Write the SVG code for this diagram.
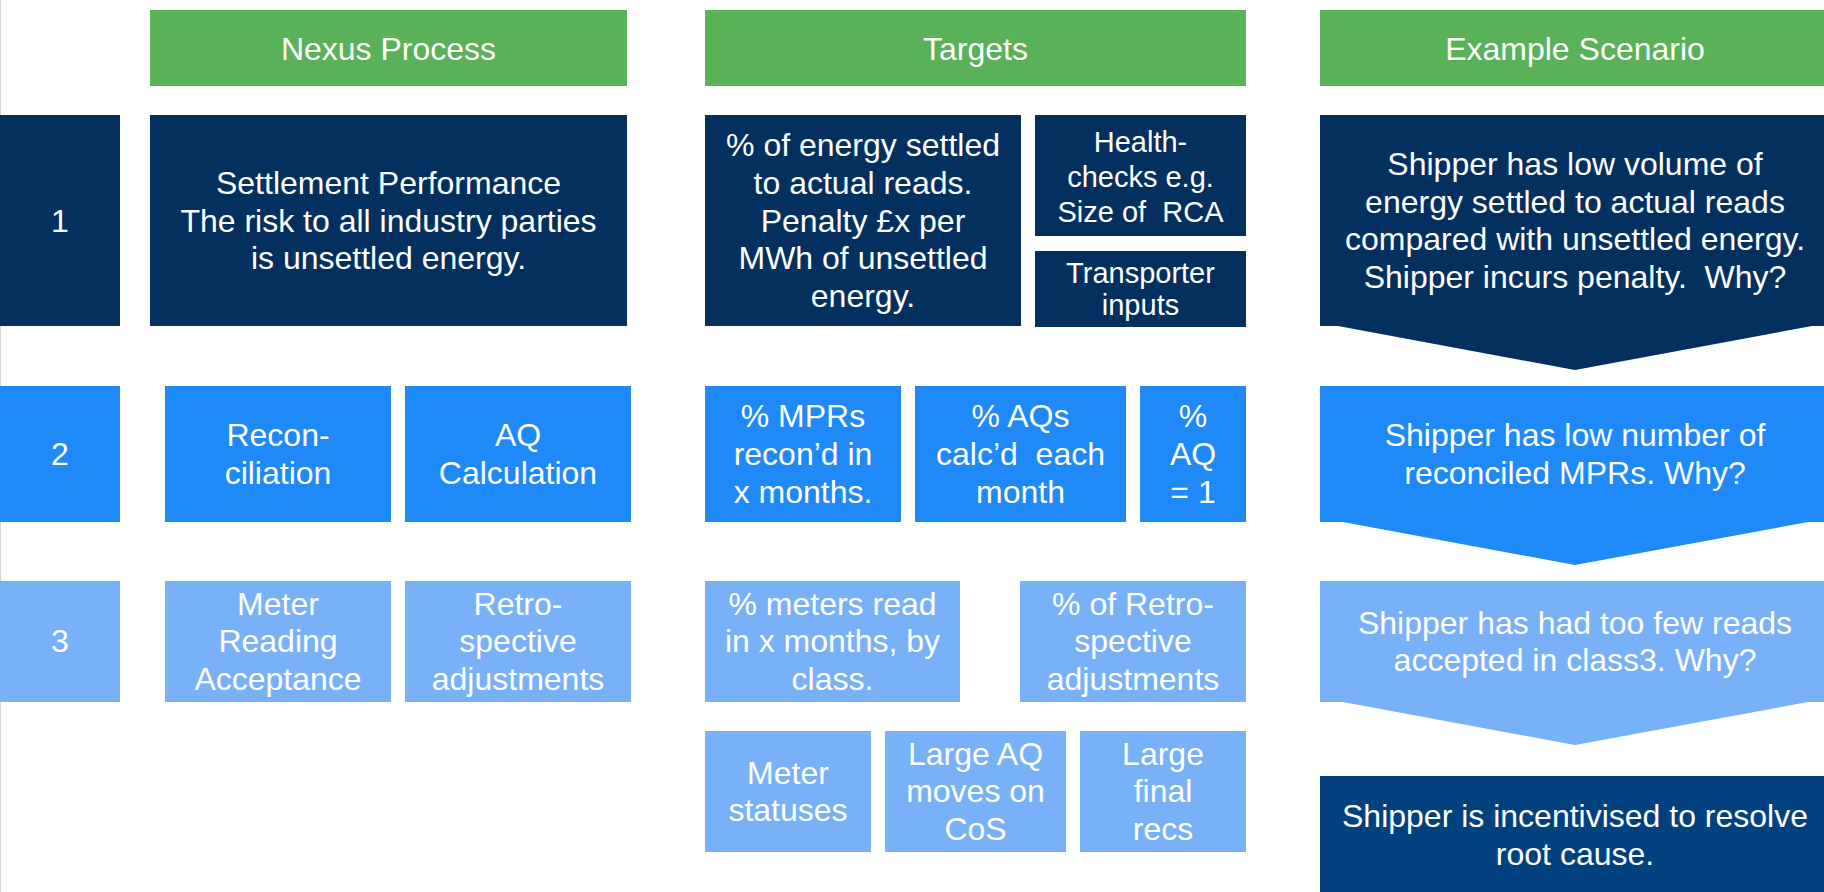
<svg xmlns="http://www.w3.org/2000/svg" width="1824" height="892" viewBox="0 0 1824 892">
  <style>
    .hdr { fill: #5AB258; }
    .navy { fill: #03305F; }
    .navy2 { fill: #01417F; }
    .mid { fill: #1E89F7; }
    .light { fill: #79B1F8; }
    text { font-family: "Liberation Sans", Arial, sans-serif; font-size: 32px; fill: #FFFFFF; text-anchor: middle; white-space: pre; }
    .sm { font-size: 29px; }
  </style>

  <!-- left margin rule -->
  <line x1="0.5" y1="0" x2="0.5" y2="892" stroke="#D6D6D6" stroke-width="1"/>

  <!-- column headers -->
  <g id="hdr-nexus">
    <rect class="hdr" x="150" y="10" width="477" height="76"/>
    <text x="388.5" y="60">Nexus Process</text>
  </g>
  <g id="hdr-targets">
    <rect class="hdr" x="705" y="10" width="541" height="76"/>
    <text x="975.5" y="60">Targets</text>
  </g>
  <g id="hdr-scenario">
    <rect class="hdr" x="1320" y="10" width="510" height="76"/>
    <text x="1575" y="60">Example Scenario</text>
  </g>

  <!-- row 1 -->
  <g id="row1-label">
    <rect class="navy" x="0" y="115" width="120" height="211"/>
    <text x="60" y="232">1</text>
  </g>
  <g id="row1-process">
    <rect class="navy" x="150" y="115" width="477" height="211"/>
    <text x="388.5" y="194">Settlement Performance</text>
    <text x="388.5" y="231.5">The risk to all industry parties</text>
    <text x="388.5" y="269.2">is unsettled energy.</text>
  </g>
  <g id="row1-target-energy">
    <rect class="navy" x="705" y="115" width="316" height="211"/>
    <text x="863" y="156.1">% of energy settled</text>
    <text x="863" y="193.8">to actual reads.</text>
    <text x="863" y="231.5">Penalty £x per</text>
    <text x="863" y="269.2">MWh of unsettled</text>
    <text x="863" y="306.9">energy.</text>
  </g>
  <g id="row1-target-health">
    <rect class="navy" x="1035" y="115" width="211" height="121"/>
    <text class="sm" x="1140.5" y="152">Health-</text>
    <text class="sm" x="1140.5" y="187">checks e.g.</text>
    <text class="sm" x="1140.5" y="222">Size of  RCA</text>
  </g>
  <g id="row1-target-transporter">
    <rect class="navy" x="1035" y="251" width="211" height="76"/>
    <text class="sm" x="1140.5" y="283">Transporter</text>
    <text class="sm" x="1140.5" y="315">inputs</text>
  </g>
  <g id="row1-scenario">
    <polygon class="navy" points="1320,115 1830,115 1830,326 1812,326 1575,370 1338,326 1320,326"/>
    <text x="1575" y="175">Shipper has low volume of</text>
    <text x="1575" y="212.7">energy settled to actual reads</text>
    <text x="1575" y="250.3">compared with unsettled energy.</text>
    <text x="1575" y="288">Shipper incurs penalty.  Why?</text>
  </g>

  <!-- row 2 -->
  <g id="row2-label">
    <rect class="mid" x="0" y="386" width="120" height="136"/>
    <text x="60" y="465">2</text>
  </g>
  <g id="row2-recon">
    <rect class="mid" x="165" y="386" width="226" height="136"/>
    <text x="278" y="446.2">Recon-</text>
    <text x="278" y="483.8">ciliation</text>
  </g>
  <g id="row2-aq">
    <rect class="mid" x="405" y="386" width="226" height="136"/>
    <text x="518" y="446.2">AQ</text>
    <text x="518" y="483.8">Calculation</text>
  </g>
  <g id="row2-target-mprs">
    <rect class="mid" x="705" y="386" width="196" height="136"/>
    <text x="803" y="427.3">% MPRs</text>
    <text x="803" y="465">recon’d in</text>
    <text x="803" y="502.7">x months.</text>
  </g>
  <g id="row2-target-aqs">
    <rect class="mid" x="915" y="386" width="211" height="136"/>
    <text x="1020.5" y="427.3">% AQs</text>
    <text x="1020.5" y="465">calc’d  each</text>
    <text x="1020.5" y="502.7">month</text>
  </g>
  <g id="row2-target-aq1">
    <rect class="mid" x="1140" y="386" width="106" height="136"/>
    <text x="1193" y="427.3">%</text>
    <text x="1193" y="465">AQ</text>
    <text x="1193" y="502.7">= 1</text>
  </g>
  <g id="row2-scenario">
    <polygon class="mid" points="1320,386 1830,386 1830,522 1808,522 1575,565 1343,522 1320,522"/>
    <text x="1575" y="446.2">Shipper has low number of</text>
    <text x="1575" y="483.8">reconciled MPRs. Why?</text>
  </g>

  <!-- row 3 -->
  <g id="row3-label">
    <rect class="light" x="0" y="581" width="120" height="121"/>
    <text x="60" y="652.3">3</text>
  </g>
  <g id="row3-reading">
    <rect class="light" x="165" y="581" width="226" height="121"/>
    <text x="278" y="614.6">Meter</text>
    <text x="278" y="652.3">Reading</text>
    <text x="278" y="690">Acceptance</text>
  </g>
  <g id="row3-retro">
    <rect class="light" x="405" y="581" width="226" height="121"/>
    <text x="518" y="614.6">Retro-</text>
    <text x="518" y="652.3">spective</text>
    <text x="518" y="690">adjustments</text>
  </g>
  <g id="row3-target-meters">
    <rect class="light" x="705" y="581" width="255" height="121"/>
    <text x="832.5" y="614.6">% meters read</text>
    <text x="832.5" y="652.3">in x months, by</text>
    <text x="832.5" y="690">class.</text>
  </g>
  <g id="row3-target-retro">
    <rect class="light" x="1020" y="581" width="226" height="121"/>
    <text x="1133" y="614.6">% of Retro-</text>
    <text x="1133" y="652.3">spective</text>
    <text x="1133" y="690">adjustments</text>
  </g>
  <g id="row3-scenario">
    <polygon class="light" points="1320,581 1830,581 1830,702 1808,702 1575,745 1343,702 1320,702"/>
    <text x="1575" y="633.5">Shipper has had too few reads</text>
    <text x="1575" y="671.2">accepted in class3. Why?</text>
  </g>

  <!-- row 4 -->
  <g id="row4-target-statuses">
    <rect class="light" x="705" y="731" width="166" height="121"/>
    <text x="788" y="783.5">Meter</text>
    <text x="788" y="821.2">statuses</text>
  </g>
  <g id="row4-target-aqmoves">
    <rect class="light" x="885" y="731" width="181" height="121"/>
    <text x="975.5" y="764.6">Large AQ</text>
    <text x="975.5" y="802.3">moves on</text>
    <text x="975.5" y="840">CoS</text>
  </g>
  <g id="row4-target-finalrecs">
    <rect class="light" x="1080" y="731" width="166" height="121"/>
    <text x="1163" y="764.6">Large</text>
    <text x="1163" y="802.3">final</text>
    <text x="1163" y="840">recs</text>
  </g>
  <g id="row4-scenario">
    <rect class="navy2" x="1320" y="776" width="510" height="120"/>
    <text x="1575" y="827">Shipper is incentivised to resolve</text>
    <text x="1575" y="864.8">root cause.</text>
  </g>

  <!-- no connectors: the chevrons themselves carry the flow -->
  <g id="connectors"/>
</svg>
